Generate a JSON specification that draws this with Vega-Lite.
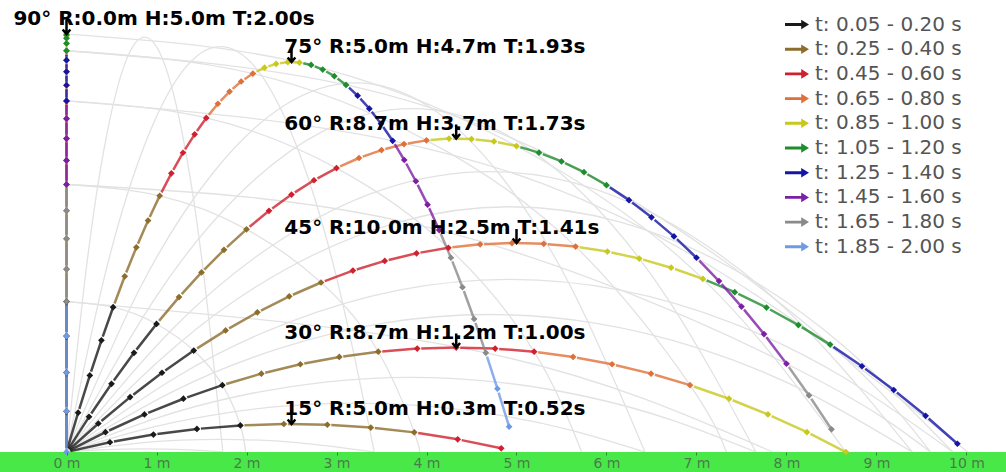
{
  "$schema": "https://vega.github.io/schema/vega-lite/v6.json",
  "width": 1006,
  "height": 472,
  "padding": 0,
  "autosize": {"type": "none"},
  "background": "white",
  "config": {"view": {"stroke": null}, "font": "DejaVu Sans"},
  "datasets": {
    "pts": [
      {"a":15,"t":0,"x":0,"y":0},{"a":15,"t":0.05,"x":0.483,"y":0.117},{"a":15,"t":0.1,"x":0.966,"y":0.209},{"a":15,"t":0.15,"x":1.449,"y":0.276},{"a":15,"t":0.2,"x":1.932,"y":0.318},{"a":15,"t":0.25,"x":2.415,"y":0.335},{"a":15,"t":0.3,"x":2.898,"y":0.326},{"a":15,"t":0.35,"x":3.381,"y":0.293},{"a":15,"t":0.4,"x":3.864,"y":0.235},{"a":15,"t":0.45,"x":4.347,"y":0.152},{"a":15,"t":0.5,"x":4.83,"y":0.044},
      {"a":30,"t":0,"x":0,"y":0},{"a":30,"t":0.05,"x":0.433,"y":0.2375},{"a":30,"t":0.1,"x":0.866,"y":0.45},{"a":30,"t":0.15,"x":1.299,"y":0.6375},{"a":30,"t":0.2,"x":1.732,"y":0.8},{"a":30,"t":0.25,"x":2.165,"y":0.9375},{"a":30,"t":0.3,"x":2.598,"y":1.05},{"a":30,"t":0.35,"x":3.031,"y":1.1375},{"a":30,"t":0.4,"x":3.464,"y":1.2},{"a":30,"t":0.45,"x":3.897,"y":1.2375},{"a":30,"t":0.5,"x":4.33,"y":1.25},{"a":30,"t":0.55,"x":4.763,"y":1.2375},{"a":30,"t":0.6,"x":5.196,"y":1.2},{"a":30,"t":0.65,"x":5.629,"y":1.1375},{"a":30,"t":0.7,"x":6.062,"y":1.05},{"a":30,"t":0.75,"x":6.495,"y":0.9375},{"a":30,"t":0.8,"x":6.928,"y":0.8},{"a":30,"t":0.85,"x":7.361,"y":0.6375},{"a":30,"t":0.9,"x":7.794,"y":0.45},{"a":30,"t":0.95,"x":8.227,"y":0.2375},{"a":30,"t":1,"x":8.66,"y":0},
      {"a":45,"t":0,"x":0,"y":0},{"a":45,"t":0.05,"x":0.354,"y":0.341},{"a":45,"t":0.1,"x":0.707,"y":0.657},{"a":45,"t":0.15,"x":1.061,"y":0.948},{"a":45,"t":0.2,"x":1.414,"y":1.214},{"a":45,"t":0.25,"x":1.768,"y":1.455},{"a":45,"t":0.3,"x":2.121,"y":1.671},{"a":45,"t":0.35,"x":2.475,"y":1.862},{"a":45,"t":0.4,"x":2.828,"y":2.028},{"a":45,"t":0.45,"x":3.182,"y":2.17},{"a":45,"t":0.5,"x":3.536,"y":2.286},{"a":45,"t":0.55,"x":3.889,"y":2.377},{"a":45,"t":0.6,"x":4.243,"y":2.443},{"a":45,"t":0.65,"x":4.596,"y":2.484},{"a":45,"t":0.7,"x":4.95,"y":2.5},{"a":45,"t":0.75,"x":5.303,"y":2.491},{"a":45,"t":0.8,"x":5.657,"y":2.457},{"a":45,"t":0.85,"x":6.01,"y":2.398},{"a":45,"t":0.9,"x":6.364,"y":2.314},{"a":45,"t":0.95,"x":6.718,"y":2.205},{"a":45,"t":1,"x":7.071,"y":2.071},{"a":45,"t":1.05,"x":7.425,"y":1.912},{"a":45,"t":1.1,"x":7.778,"y":1.728},{"a":45,"t":1.15,"x":8.132,"y":1.519},{"a":45,"t":1.2,"x":8.485,"y":1.285},{"a":45,"t":1.25,"x":8.839,"y":1.026},{"a":45,"t":1.3,"x":9.192,"y":0.742},{"a":45,"t":1.35,"x":9.546,"y":0.433},{"a":45,"t":1.4,"x":9.899,"y":0.099},
      {"a":60,"t":0,"x":0,"y":0},{"a":60,"t":0.05,"x":0.25,"y":0.421},{"a":60,"t":0.1,"x":0.5,"y":0.816},{"a":60,"t":0.15,"x":0.75,"y":1.187},{"a":60,"t":0.2,"x":1,"y":1.532},{"a":60,"t":0.25,"x":1.25,"y":1.853},{"a":60,"t":0.3,"x":1.5,"y":2.148},{"a":60,"t":0.35,"x":1.75,"y":2.419},{"a":60,"t":0.4,"x":2,"y":2.664},{"a":60,"t":0.45,"x":2.25,"y":2.885},{"a":60,"t":0.5,"x":2.5,"y":3.08},{"a":60,"t":0.55,"x":2.75,"y":3.251},{"a":60,"t":0.6,"x":3,"y":3.396},{"a":60,"t":0.65,"x":3.25,"y":3.517},{"a":60,"t":0.7,"x":3.5,"y":3.612},{"a":60,"t":0.75,"x":3.75,"y":3.683},{"a":60,"t":0.8,"x":4,"y":3.728},{"a":60,"t":0.85,"x":4.25,"y":3.749},{"a":60,"t":0.9,"x":4.5,"y":3.744},{"a":60,"t":0.95,"x":4.75,"y":3.715},{"a":60,"t":1,"x":5,"y":3.66},{"a":60,"t":1.05,"x":5.25,"y":3.581},{"a":60,"t":1.1,"x":5.5,"y":3.476},{"a":60,"t":1.15,"x":5.75,"y":3.347},{"a":60,"t":1.2,"x":6,"y":3.192},{"a":60,"t":1.25,"x":6.25,"y":3.013},{"a":60,"t":1.3,"x":6.5,"y":2.808},{"a":60,"t":1.35,"x":6.75,"y":2.579},{"a":60,"t":1.4,"x":7,"y":2.324},{"a":60,"t":1.45,"x":7.25,"y":2.045},{"a":60,"t":1.5,"x":7.5,"y":1.74},{"a":60,"t":1.55,"x":7.75,"y":1.411},{"a":60,"t":1.6,"x":8,"y":1.056},{"a":60,"t":1.65,"x":8.25,"y":0.677},{"a":60,"t":1.7,"x":8.5,"y":0.272},
      {"a":75,"t":0,"x":0,"y":0},{"a":75,"t":0.05,"x":0.129,"y":0.471},{"a":75,"t":0.1,"x":0.259,"y":0.916},{"a":75,"t":0.15,"x":0.388,"y":1.336},{"a":75,"t":0.2,"x":0.518,"y":1.732},{"a":75,"t":0.25,"x":0.647,"y":2.102},{"a":75,"t":0.3,"x":0.776,"y":2.448},{"a":75,"t":0.35,"x":0.906,"y":2.768},{"a":75,"t":0.4,"x":1.035,"y":3.064},{"a":75,"t":0.45,"x":1.165,"y":3.334},{"a":75,"t":0.5,"x":1.294,"y":3.58},{"a":75,"t":0.55,"x":1.424,"y":3.8},{"a":75,"t":0.6,"x":1.553,"y":3.996},{"a":75,"t":0.65,"x":1.682,"y":4.166},{"a":75,"t":0.7,"x":1.812,"y":4.312},{"a":75,"t":0.75,"x":1.941,"y":4.432},{"a":75,"t":0.8,"x":2.071,"y":4.527},{"a":75,"t":0.85,"x":2.2,"y":4.598},{"a":75,"t":0.9,"x":2.329,"y":4.643},{"a":75,"t":0.95,"x":2.459,"y":4.664},{"a":75,"t":1,"x":2.588,"y":4.659},{"a":75,"t":1.05,"x":2.718,"y":4.63},{"a":75,"t":1.1,"x":2.847,"y":4.575},{"a":75,"t":1.15,"x":2.976,"y":4.496},{"a":75,"t":1.2,"x":3.106,"y":4.391},{"a":75,"t":1.25,"x":3.235,"y":4.262},{"a":75,"t":1.3,"x":3.365,"y":4.107},{"a":75,"t":1.35,"x":3.494,"y":3.928},{"a":75,"t":1.4,"x":3.624,"y":3.723},{"a":75,"t":1.45,"x":3.753,"y":3.493},{"a":75,"t":1.5,"x":3.882,"y":3.239},{"a":75,"t":1.55,"x":4.012,"y":2.959},{"a":75,"t":1.6,"x":4.141,"y":2.655},{"a":75,"t":1.65,"x":4.271,"y":2.325},{"a":75,"t":1.7,"x":4.4,"y":1.971},{"a":75,"t":1.75,"x":4.529,"y":1.591},{"a":75,"t":1.8,"x":4.659,"y":1.187},{"a":75,"t":1.85,"x":4.788,"y":0.757},{"a":75,"t":1.9,"x":4.918,"y":0.303},
      {"a":90,"t":0,"x":0,"y":0},{"a":90,"t":0.05,"x":0,"y":0.4875},{"a":90,"t":0.1,"x":0,"y":0.95},{"a":90,"t":0.15,"x":0,"y":1.3875},{"a":90,"t":0.2,"x":0,"y":1.8},{"a":90,"t":0.25,"x":0,"y":2.1875},{"a":90,"t":0.3,"x":0,"y":2.55},{"a":90,"t":0.35,"x":0,"y":2.8875},{"a":90,"t":0.4,"x":0,"y":3.2},{"a":90,"t":0.45,"x":0,"y":3.4875},{"a":90,"t":0.5,"x":0,"y":3.75},{"a":90,"t":0.55,"x":0,"y":3.9875},{"a":90,"t":0.6,"x":0,"y":4.2},{"a":90,"t":0.65,"x":0,"y":4.3875},{"a":90,"t":0.7,"x":0,"y":4.55},{"a":90,"t":0.75,"x":0,"y":4.6875},{"a":90,"t":0.8,"x":0,"y":4.8},{"a":90,"t":0.85,"x":0,"y":4.8875},{"a":90,"t":0.9,"x":0,"y":4.95},{"a":90,"t":0.95,"x":0,"y":4.9875},{"a":90,"t":1,"x":0,"y":5},{"a":90,"t":1.05,"x":0,"y":4.9875},{"a":90,"t":1.1,"x":0,"y":4.95},{"a":90,"t":1.15,"x":0,"y":4.8875},{"a":90,"t":1.2,"x":0,"y":4.8},{"a":90,"t":1.25,"x":0,"y":4.6875},{"a":90,"t":1.3,"x":0,"y":4.55},{"a":90,"t":1.35,"x":0,"y":4.3875},{"a":90,"t":1.4,"x":0,"y":4.2},{"a":90,"t":1.45,"x":0,"y":3.9875},{"a":90,"t":1.5,"x":0,"y":3.75},{"a":90,"t":1.55,"x":0,"y":3.4875},{"a":90,"t":1.6,"x":0,"y":3.2},{"a":90,"t":1.65,"x":0,"y":2.8875},{"a":90,"t":1.7,"x":0,"y":2.55},{"a":90,"t":1.75,"x":0,"y":2.1875},{"a":90,"t":1.8,"x":0,"y":1.8},{"a":90,"t":1.85,"x":0,"y":1.3875},{"a":90,"t":1.9,"x":0,"y":0.95},{"a":90,"t":1.95,"x":0,"y":0.4875},{"a":90,"t":2,"x":0,"y":0},
      {"a":5.74,"t":0.2,"x":1.99,"y":0,"g":1},{"a":11.54,"t":0.4,"x":3.919,"y":0,"g":1},{"a":17.46,"t":0.6,"x":5.724,"y":0,"g":1},{"a":23.58,"t":0.8,"x":7.332,"y":0,"g":1},{"a":36.87,"t":1.2,"x":9.6,"y":0,"g":1},{"a":44.43,"t":1.4,"x":9.998,"y":0,"g":1},{"a":53.13,"t":1.6,"x":9.6,"y":0,"g":1},{"a":64.16,"t":1.8,"x":7.846,"y":0,"g":1}
    ],
    "traj": [
      {"a":5,"x":0,"y":0},{"a":5,"x":0.434,"y":0.028},{"a":5,"x":0.868,"y":0.038},{"a":5,"x":1.302,"y":0.028},{"a":5,"x":1.737,"y":0},
      {"a":10,"x":0,"y":0},{"a":10,"x":0.855,"y":0.113},{"a":10,"x":1.71,"y":0.151},{"a":10,"x":2.565,"y":0.113},{"a":10,"x":3.42,"y":0},
      {"a":20,"x":0,"y":0},{"a":20,"x":0.803,"y":0.256},{"a":20,"x":1.607,"y":0.439},{"a":20,"x":2.41,"y":0.548},{"a":20,"x":3.214,"y":0.585},{"a":20,"x":4.017,"y":0.548},{"a":20,"x":4.821,"y":0.439},{"a":20,"x":5.624,"y":0.256},{"a":20,"x":6.428,"y":0},
      {"a":25,"x":0,"y":0},{"a":25,"x":0.958,"y":0.391},{"a":25,"x":1.915,"y":0.67},{"a":25,"x":2.873,"y":0.837},{"a":25,"x":3.83,"y":0.893},{"a":25,"x":4.788,"y":0.837},{"a":25,"x":5.745,"y":0.67},{"a":25,"x":6.703,"y":0.391},{"a":25,"x":7.66,"y":0},
      {"a":35,"x":0,"y":0},{"a":35,"x":1.175,"y":0.72},{"a":35,"x":2.349,"y":1.234},{"a":35,"x":3.524,"y":1.542},{"a":35,"x":4.698,"y":1.645},{"a":35,"x":5.873,"y":1.542},{"a":35,"x":7.048,"y":1.234},{"a":35,"x":8.222,"y":0.72},{"a":35,"x":9.397,"y":0},
      {"a":40,"x":0,"y":0},{"a":40,"x":1.231,"y":0.904},{"a":40,"x":2.462,"y":1.549},{"a":40,"x":3.693,"y":1.937},{"a":40,"x":4.924,"y":2.066},{"a":40,"x":6.155,"y":1.937},{"a":40,"x":7.386,"y":1.549},{"a":40,"x":8.617,"y":0.904},{"a":40,"x":9.848,"y":0},
      {"a":50,"x":0,"y":0},{"a":50,"x":1.231,"y":1.284},{"a":50,"x":2.462,"y":2.201},{"a":50,"x":3.693,"y":2.751},{"a":50,"x":4.924,"y":2.934},{"a":50,"x":6.155,"y":2.751},{"a":50,"x":7.386,"y":2.201},{"a":50,"x":8.617,"y":1.284},{"a":50,"x":9.848,"y":0},
      {"a":55,"x":0,"y":0},{"a":55,"x":1.175,"y":1.468},{"a":55,"x":2.349,"y":2.516},{"a":55,"x":3.524,"y":3.145},{"a":55,"x":4.698,"y":3.355},{"a":55,"x":5.873,"y":3.145},{"a":55,"x":7.048,"y":2.516},{"a":55,"x":8.222,"y":1.468},{"a":55,"x":9.397,"y":0},
      {"a":65,"x":0,"y":0},{"a":65,"x":0.958,"y":1.797},{"a":65,"x":1.915,"y":3.08},{"a":65,"x":2.873,"y":3.85},{"a":65,"x":3.83,"y":4.107},{"a":65,"x":4.788,"y":3.85},{"a":65,"x":5.745,"y":3.08},{"a":65,"x":6.703,"y":1.797},{"a":65,"x":7.66,"y":0},
      {"a":70,"x":0,"y":0},{"a":70,"x":0.803,"y":1.932},{"a":70,"x":1.607,"y":3.311},{"a":70,"x":2.41,"y":4.139},{"a":70,"x":3.214,"y":4.415},{"a":70,"x":4.017,"y":4.139},{"a":70,"x":4.821,"y":3.311},{"a":70,"x":5.624,"y":1.932},{"a":70,"x":6.428,"y":0},
      {"a":80,"x":0,"y":0},{"a":80,"x":0.428,"y":2.122},{"a":80,"x":0.855,"y":3.637},{"a":80,"x":1.283,"y":4.546},{"a":80,"x":1.71,"y":4.849},{"a":80,"x":2.138,"y":4.546},{"a":80,"x":2.565,"y":3.637},{"a":80,"x":2.993,"y":2.122},{"a":80,"x":3.42,"y":0},
      {"a":85,"x":0,"y":0},{"a":85,"x":0.217,"y":2.171},{"a":85,"x":0.434,"y":3.722},{"a":85,"x":0.651,"y":4.652},{"a":85,"x":0.868,"y":4.962},{"a":85,"x":1.085,"y":4.652},{"a":85,"x":1.302,"y":3.722},{"a":85,"x":1.519,"y":2.171},{"a":85,"x":1.737,"y":0}
    ],
    "labs": [
      {"lab":"90° R:0.0m H:5.0m T:2.00s","lx":-0.59,"x":0,"y":5},
      {"lab":"75° R:5.0m H:4.7m T:1.93s","lx":2.42,"x":2.5,"y":4.665},
      {"lab":"60° R:8.7m H:3.7m T:1.73s","lx":2.42,"x":4.33,"y":3.75},
      {"lab":"45° R:10.0m H:2.5m T:1.41s","lx":2.42,"x":5,"y":2.5},
      {"lab":"30° R:8.7m H:1.2m T:1.00s","lx":2.42,"x":4.33,"y":1.25},
      {"lab":"15° R:5.0m H:0.3m T:0.52s","lx":2.42,"x":2.5,"y":0.335}
    ]
  },
  "resolve": {"legend": {"color": "independent"}},
  "layer": [
    {
      "data": {"name": "traj"},
      "mark": {"type": "line", "color": "#e2e2e2", "strokeWidth": 1.3, "interpolate": "natural"},
      "encoding": {
        "x": {"field": "x", "type": "quantitative", "scale": {"domain": [-0.739, 10.439], "nice": false, "zero": false},
          "axis": {"orient": "bottom", "offset": -20, "values": [0,1,2,3,4,5,6,7,8,9,10], "labelExpr": "datum.value + ' m'", "domain": false, "grid": false, "tickSize": 3, "tickColor": "#2a8c2a", "labelColor": "#4d7a4d", "labelFontSize": 14, "labelPadding": 1, "labelFlush": false, "labelOverlap": false, "labelBound": false, "title": null, "zindex": 1}},
        "y": {"field": "y", "type": "quantitative", "scale": {"domain": [-0.239, 5.407], "nice": false, "zero": false}, "axis": null},
        "detail": {"field": "a"}
      }
    },
    {
      "data": {"name": "pts"},
      "transform": [{"filter": {"field": "t", "oneOf": [0.2, 0.4, 0.6, 0.8, 1, 1.2, 1.4, 1.6, 1.8]}}],
      "mark": {"type": "line", "color": "#e2e2e2", "strokeWidth": 1.3, "interpolate": "natural"},
      "encoding": {
        "x": {"field": "x", "type": "quantitative", "scale": {"domain": [-0.739, 10.439], "nice": false, "zero": false}},
        "y": {"field": "y", "type": "quantitative", "scale": {"domain": [-0.239, 5.407], "nice": false, "zero": false}, "axis": null},
        "detail": {"field": "t"},
        "order": {"field": "a", "type": "quantitative"}
      }
    },
    {
      "data": {"values": [{"ground": -0.12}]},
      "mark": {"type": "rule", "color": "#48e848", "strokeWidth": 20},
      "encoding": {
        "y": {"field": "ground", "type": "quantitative", "scale": {"domain": [-0.239, 5.407], "nice": false, "zero": false}, "axis": null}
      }
    },
    {
      "data": {"name": "pts"},
      "transform": [
        {"filter": "!datum.g"},
        {"window": [{"op": "lag", "field": "x", "as": "x0"}, {"op": "lag", "field": "y", "as": "y0"}], "groupby": ["a"], "sort": [{"field": "t"}]},
        {"filter": "datum.t > 0"},
        {"bin": {"step": 0.2, "anchor": 0.025}, "field": "t", "as": "tb"}
      ],
      "mark": {"type": "rule", "strokeWidth": 2.5, "opacity": 0.8, "strokeDash": [0, 4, 2000, 0]},
      "encoding": {
        "x": {"field": "x0", "type": "quantitative", "scale": {"domain": [-0.739, 10.439], "nice": false, "zero": false}},
        "y": {"field": "y0", "type": "quantitative", "scale": {"domain": [-0.239, 5.407], "nice": false, "zero": false}, "axis": null},
        "x2": {"field": "x"},
        "y2": {"field": "y"},
        "color": {"field": "tb", "type": "ordinal", "legend": null,
          "scale": {"range": ["#1a1a1a", "#8c6d2c", "#d0202e", "#e0703a", "#c8c81e", "#1f8c2e", "#1414a6", "#7d1fa5", "#8a8a8a", "#6f9be6"]}}
      }
    },
    {
      "data": {"name": "pts"},
      "transform": [
        {"filter": "!datum.g"},
        {"filter": "datum.t > 0"},
        {"bin": {"step": 0.2, "anchor": 0.025}, "field": "t", "as": "tb"}
      ],
      "mark": {"type": "point", "shape": "diamond", "filled": true, "size": 45, "opacity": 1},
      "encoding": {
        "x": {"field": "x", "type": "quantitative", "scale": {"domain": [-0.739, 10.439], "nice": false, "zero": false}},
        "y": {"field": "y", "type": "quantitative", "scale": {"domain": [-0.239, 5.407], "nice": false, "zero": false}, "axis": null},
        "color": {"field": "tb", "type": "ordinal",
          "scale": {"range": ["#1a1a1a", "#8c6d2c", "#d0202e", "#e0703a", "#c8c81e", "#1f8c2e", "#1414a6", "#7d1fa5", "#8a8a8a", "#6f9be6"]},
          "legend": {"orient": "none", "legendX": 777, "legendY": 4.5, "title": null,
            "symbolType": "M-1,-0.12L0.35,-0.12L0.35,-0.4L1,0L0.35,0.4L0.35,0.12L-1,0.12Z",
            "symbolSize": 576, "symbolOpacity": 1, "symbolStrokeWidth": 0,
            "labelFontSize": 20, "labelColor": "#555555", "labelFont": "DejaVu Sans", "labelOffset": 6, "labelLimit": 300,
            "labelExpr": "'t: ' + ['0.05 - 0.20','0.25 - 0.40','0.45 - 0.60','0.65 - 0.80','0.85 - 1.00','1.05 - 1.20','1.25 - 1.40','1.45 - 1.60','1.65 - 1.80','1.85 - 2.00'][datum.index] + ' s'",
            "fillColor": "rgba(255,255,255,0.9)", "padding": 8, "rowPadding": 2.7}}
      }
    },
    {
      "data": {"name": "labs"},
      "mark": {"type": "point", "shape": "M0,-1L0,0.95M-0.55,0.35L0,1L0.55,0.35", "filled": false, "size": 196, "strokeWidth": 2.5, "color": "#000000", "opacity": 1, "yOffset": -7},
      "encoding": {
        "x": {"field": "x", "type": "quantitative", "scale": {"domain": [-0.739, 10.439], "nice": false, "zero": false}},
        "y": {"field": "y", "type": "quantitative", "scale": {"domain": [-0.239, 5.407], "nice": false, "zero": false}, "axis": null}
      }
    },
    {
      "data": {"name": "labs"},
      "mark": {"type": "text", "align": "left", "baseline": "alphabetic", "dy": -9, "fontSize": 20, "fontWeight": "bold", "font": "DejaVu Sans", "color": "#000000"},
      "encoding": {
        "x": {"field": "lx", "type": "quantitative", "scale": {"domain": [-0.739, 10.439], "nice": false, "zero": false}},
        "y": {"field": "y", "type": "quantitative", "scale": {"domain": [-0.239, 5.407], "nice": false, "zero": false}, "axis": null},
        "text": {"field": "lab"}
      }
    }
  ]
}
